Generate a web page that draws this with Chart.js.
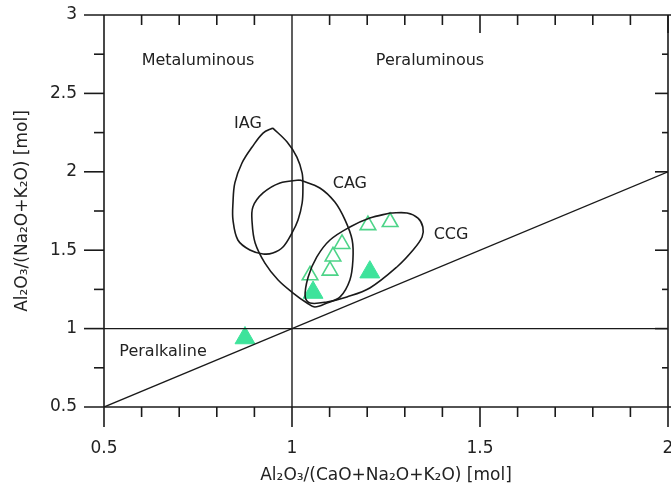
<!DOCTYPE html>
<html lang="en">
  <head>
    <meta charset="utf-8" />
    <title>A/NK vs A/CNK</title>
    <style>
      * {
        margin: 0;
        padding: 0;
      }
      body {
        background: #fff;
        overflow: hidden;
      }
      .chartBox {
        width: 671px;
        height: 490px;
      }
    </style>
  </head>
  <body>
    <div class="chartBox">
      <canvas id="myChart"></canvas>
    </div>
    <script src="https://cdn.jsdelivr.net/npm/chart.js/dist/chart.umd.min.js"></script>
    <script>
      // setup - sample points
      const openX = [1.202, 1.261, 1.133, 1.109, 1.101, 1.048];
      const openY = [1.66, 1.68, 1.54, 1.46, 1.37, 1.34];
      const filledX = [0.875, 1.056, 1.207];
      const filledY = [0.94, 1.23, 1.36];

      // field outlines [A/CNK, A/NK]
      const iagOutline = [
        [0.949, 2.279], [0.987, 2.19], [1.013, 2.094], [1.027, 1.992], [1.029, 1.903],
        [1.027, 1.801], [1.016, 1.693], [1.0, 1.61], [0.976, 1.52], [0.949, 1.482],
        [0.923, 1.476], [0.888, 1.501], [0.856, 1.565], [0.843, 1.693], [0.843, 1.801],
        [0.848, 1.929], [0.867, 2.056], [0.894, 2.158], [0.923, 2.247], [0.949, 2.279],
      ];
      const cagOutline = [
        [1.021, 1.948], [0.968, 1.929], [0.923, 1.865], [0.896, 1.776], [0.894, 1.673],
        [0.902, 1.546], [0.928, 1.418], [0.963, 1.31], [1.003, 1.227], [1.04, 1.163],
        [1.061, 1.138], [1.093, 1.163], [1.128, 1.202], [1.154, 1.31], [1.162, 1.438],
        [1.16, 1.565], [1.141, 1.693], [1.114, 1.807], [1.074, 1.897], [1.021, 1.948],
      ];
      const ccgOutline = [
        [1.261, 1.737], [1.207, 1.705], [1.154, 1.648], [1.101, 1.565], [1.066, 1.457],
        [1.043, 1.329], [1.035, 1.202], [1.048, 1.163], [1.093, 1.17], [1.146, 1.202],
        [1.207, 1.259], [1.279, 1.393], [1.322, 1.501], [1.346, 1.584], [1.348, 1.648],
        [1.335, 1.705], [1.306, 1.737], [1.261, 1.737],
      ];

      // boundary lines
      const verticalLine = [[1, 0.5], [1, 3]];
      const horizontalLine = [[0.5, 1], [2, 1]];
      const diagonalLine = [[0.5, 0.5], [2, 2]];

      // text labels
      const regionLabels = ["Metaluminous", "Peraluminous", "Peralkaline", "IAG", "CAG", "CCG"];
      const labelX = [0.75, 1.367, 0.657, 0.883, 1.154, 1.423];
      const labelY = [2.707, 2.707, 0.851, 2.305, 1.922, 1.597];

      // axis ticks
      const xMin = 0.5, xMax = 2, xStep = 0.5, xMinorStep = 0.1;
      const yMin = 0.5, yMax = 3, yStep = 0.5, yMinorStep = 0.25;

      const toPts = (arr) => arr.map((p) => ({ x: p[0], y: p[1] }));
      const zip = (xs, ys) => xs.map((x, i) => ({ x: x, y: ys[i] }));

      const lineColor = "#1a1a1a";
      const fontFamily = "'DejaVu Sans', sans-serif";

      function outline(label, arr) {
        return {
          label,
          data: toPts(arr),
          showLine: true,
          borderColor: lineColor,
          borderWidth: 1.6,
          pointRadius: 0,
          tension: 0.35,
          fill: false,
        };
      }
      function straight(label, arr) {
        return {
          label,
          data: toPts(arr),
          showLine: true,
          borderColor: lineColor,
          borderWidth: 1.4,
          pointRadius: 0,
          tension: 0,
        };
      }

      const data = {
        datasets: [
          straight("x=1", verticalLine),
          straight("y=1", horizontalLine),
          straight("y=x", diagonalLine),
          outline("IAG", iagOutline),
          outline("CAG", cagOutline),
          outline("CCG", ccgOutline),
          {
            label: "open",
            data: zip(openX, openY),
            pointStyle: "triangle",
            pointRadius: 9,
            backgroundColor: "rgba(255,255,255,0)",
            borderColor: "#4dd488",
            borderWidth: 1.6,
          },
          {
            label: "filled",
            data: zip(filledX, filledY),
            pointStyle: "triangle",
            pointRadius: 11.5,
            backgroundColor: "#3ee39b",
            borderColor: "#3ee39b",
            borderWidth: 1,
          },
        ],
      };

      // frame, tick marks and text labels
      const framePlugin = {
        id: "frame",
        afterDatasetsDraw(chart) {
          const { ctx, scales } = chart;
          const xs = scales.x, ys = scales.y;
          const px = (v) => xs.getPixelForValue(v);
          const py = (v) => ys.getPixelForValue(v);
          const left = px(xMin), right = px(xMax), top = py(yMax), bottom = py(yMin);
          ctx.save();
          ctx.strokeStyle = lineColor;
          ctx.lineWidth = 1.6;
          const seg = (x1, y1, x2, y2) => {
            ctx.beginPath();
            ctx.moveTo(x1, y1);
            ctx.lineTo(x2, y2);
            ctx.stroke();
          };
          // frame
          seg(left - 20, top, chart.width, top);
          seg(left - 20, bottom, chart.width, bottom);
          seg(left, top, left, bottom + 20);
          seg(right, top, right, bottom);
          // x ticks
          for (let v = xMin + xMinorStep; v < xMax + 1e-6; v += xMinorStep) {
            const x = px(v);
            const major = Math.abs(v / xStep - Math.round(v / xStep)) < 1e-6;
            seg(x, bottom, x, bottom + (major ? 20 : 10));
            if (Math.abs(v - 1) > 1e-6) seg(x, top, x, top + (major ? 18 : 10));
          }
          // y ticks
          for (let v = yMin + yMinorStep; v < yMax - 1e-6; v += yMinorStep) {
            const y = py(v);
            const major = Math.abs(v / yStep - Math.round(v / yStep)) < 1e-6;
            seg(left - (major ? 20 : 10), y, left, y);
            seg(right - (major ? 13 : 6), y, right, y);
          }
          // labels
          ctx.fillStyle = "#222";
          ctx.font = "16px " + fontFamily;
          ctx.textAlign = "center";
          ctx.textBaseline = "middle";
          regionLabels.forEach((t, i) => {
            ctx.fillText(t, px(labelX[i]), py(labelY[i]));
          });
          ctx.restore();
        },
      };

      function noPadding(scale) {
        scale.paddingTop = 0;
        scale.paddingBottom = 0;
        scale.paddingLeft = 0;
        scale.paddingRight = 0;
      }

      // config
      const config = {
        type: "scatter",
        data,
        options: {
          responsive: true,
          maintainAspectRatio: false,
          animation: false,
          layout: {
            autoPadding: false,
            padding: { top: 15, right: 3, left: 0, bottom: 0 },
          },
          plugins: {
            legend: { display: false },
            tooltip: { enabled: false },
          },
          scales: {
            x: {
              type: "linear",
              min: xMin,
              max: xMax,
              grid: { display: false, drawTicks: false },
              border: { display: false },
              ticks: {
                stepSize: xStep,
                padding: 31,
                color: "#222",
                font: { family: fontFamily, size: 17 },
                callback: (v) => String(v),
              },
              title: {
                display: true,
                text: "Al₂O₃/(CaO+Na₂O+K₂O) [mol]",
                color: "#222",
                font: { family: fontFamily, size: 17 },
                padding: { top: 0, bottom: 4 },
              },
              afterFit(scale) {
                scale.height = 83;
                noPadding(scale);
              },
            },
            y: {
              type: "linear",
              min: yMin,
              max: yMax,
              grid: { display: false, drawTicks: false },
              border: { display: false },
              ticks: {
                stepSize: yStep,
                padding: 27,
                color: "#222",
                font: { family: fontFamily, size: 17 },
                callback: (v) => String(v),
              },
              title: {
                display: true,
                text: "Al₂O₃/(Na₂O+K₂O) [mol]",
                color: "#222",
                font: { family: fontFamily, size: 17 },
                padding: { top: 12, bottom: 0 },
              },
              afterFit(scale) {
                scale.width = 104;
                noPadding(scale);
              },
            },
          },
        },
        plugins: [framePlugin],
      };

      // render init block
      const myChart = new Chart(document.getElementById("myChart"), config);
    </script>
  </body>
</html>
